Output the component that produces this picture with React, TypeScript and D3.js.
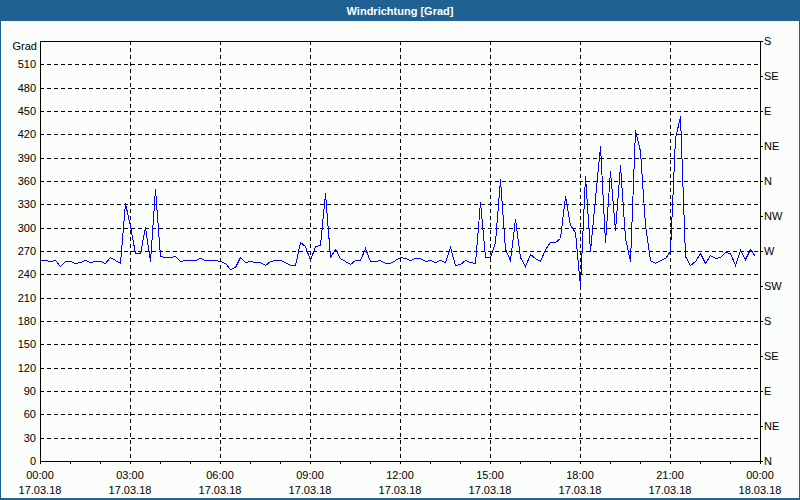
import React, { useEffect } from "react";
import * as d3 from "d3";

const TITLE = "Windrichtung [Grad]";
const Y_UNIT = "Grad";
const START = new Date(2018, 2, 17, 0, 0);
const END = new Date(2018, 2, 18, 0, 0);
const STEP_MINUTES = 10;

// wind direction in degrees, one value every 10 minutes from 17.03.18 00:00
const direction: number[] = [
  258, 258, 257, 259, 251, 257, 257, 254, 256, 258, 256, 257, 257, 255, 262, 259, 255, 332, 302, 268,
  268, 301, 257, 350, 263, 262, 262, 264, 257, 259, 258, 259, 261, 258, 258, 258, 257, 255, 247, 250,
  262, 256, 257, 256, 256, 252, 257, 259, 259, 256, 252, 252, 282, 276, 259, 277, 278, 344, 262, 273,
  261, 257, 253, 259, 259, 274, 257, 257, 259, 255, 255, 259, 262, 261, 258, 261, 261, 257, 258, 256,
  258, 256, 275, 252, 253, 258, 256, 254, 333, 262, 262, 282, 363, 272, 258, 311, 262, 251, 266, 261,
  257, 272, 282, 282, 287, 341, 304, 295, 225, 366, 270, 338, 405, 282, 373, 297, 381, 287, 257, 426,
  398, 304, 258, 255, 258, 261, 270, 415, 443, 263, 252, 257, 267, 255, 265, 261, 262, 269, 267, 252,
  271, 260, 272, 263,
];

const leftTicks: number[] = d3.range(0, 511, 30);
const rightTickValues: number[] = d3.range(0, 541, 45);
const rightTickLabels: string[] = ["N", "NE", "E", "SE", "S", "SW", "W", "NW", "N", "NE", "E", "SE", "S"];

const FONT = "'Liberation Sans', Arial, sans-serif";

export default function App() {
  useEffect(() => {
    document.body.style.margin = "0";
  }, []);

  const W = 800;
  const H = 500;
  const left = 40;
  const right = 760;
  const top = 41;
  const bottom = 461;

  const x = d3.scaleTime().domain([START, END]).range([left, right]);
  const y = d3.scaleLinear().domain([0, 540]).range([bottom, top]);

  const data = direction.map((v, i) => ({
    t: d3.timeMinute.offset(START, i * STEP_MINUTES),
    v,
  }));

  const line = d3
    .line<{ t: Date; v: number }>()
    .x((d) => Math.round(x(d.t)) + 0.5)
    .y((d) => Math.round(y(d.v)) + 0.5);

  const majorTicks = d3.timeHour.every(3)!.range(START, d3.timeMinute.offset(END, 1));
  const minorTicks = d3.timeHour.every(1)!.range(START, d3.timeMinute.offset(END, 1));
  const fmtTime = d3.timeFormat("%H:%M");
  const fmtDate = d3.timeFormat("%d.%m.%y");

  const px = (v: number) => Math.round(v) + 0.5;

  return (
    <svg width={W} height={H} style={{ display: "block" }} fontFamily={FONT}>
      <rect x={0} y={0} width={W} height={H} fill="#1e6192" />
      <rect x={1} y={21} width={W - 2} height={H - 23} fill="#fbfdfb" />
      <text x={W / 2} y={15} textAnchor="middle" fill="#ffffff" fontWeight="bold" fontSize={11}>
        {TITLE}
      </text>

      {/* horizontal grid */}
      {leftTicks.slice(1).map((v) => (
        <line key={"hg" + v} x1={left} x2={right} y1={px(y(v))} y2={px(y(v))} stroke="#000" strokeDasharray="4,3" shapeRendering="crispEdges" />
      ))}
      {/* vertical grid */}
      {majorTicks.slice(1, -1).map((t) => (
        <line key={"vg" + t.getTime()} x1={px(x(t))} x2={px(x(t))} y1={top} y2={bottom} stroke="#000" strokeDasharray="4,3" shapeRendering="crispEdges" />
      ))}

      {/* frame */}
      <rect x={left + 0.5} y={top + 0.5} width={right - left} height={bottom - top} fill="none" stroke="#000" shapeRendering="crispEdges" />

      {/* left labels */}
      {leftTicks.map((v) => (
        <text key={"yl" + v} x={36} y={y(v) + 4} textAnchor="end" fontSize={11} fill="#000">
          {v}
        </text>
      ))}
      <text x={37} y={y(540) + 9} textAnchor="end" fontSize={11} fill="#000">
        {Y_UNIT}
      </text>

      {/* right axis */}
      {rightTickValues.map((v, i) => (
        <g key={"yr" + v}>
          <line x1={right} x2={right + 3} y1={px(y(v))} y2={px(y(v))} stroke="#000" shapeRendering="crispEdges" />
          <text x={right + 4} y={y(v) + 4} fontSize={11} fill="#000">
            {rightTickLabels[i]}
          </text>
        </g>
      ))}

      {/* bottom axis ticks */}
      {minorTicks.map((t) => (
        <line key={"xt" + t.getTime()} x1={px(x(t))} x2={px(x(t))} y1={bottom} y2={bottom + 3} stroke="#000" shapeRendering="crispEdges" />
      ))}
      {majorTicks.map((t) => (
        <g key={"xl" + t.getTime()}>
          <text x={x(t)} y={479} textAnchor="middle" fontSize={11} fill="#000">
            {fmtTime(t)}
          </text>
          <text x={x(t)} y={494} textAnchor="middle" fontSize={11} fill="#000">
            {fmtDate(t)}
          </text>
        </g>
      ))}

      <path d={line(data) || ""} fill="none" stroke="#0000ff" strokeWidth={1} shapeRendering="crispEdges" />
    </svg>
  );
}
